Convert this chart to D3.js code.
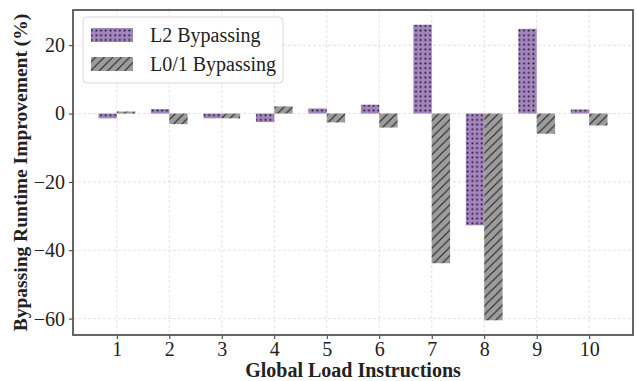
<!DOCTYPE html>
<html>
<head>
<meta charset="utf-8">
<script src="https://cdn.jsdelivr.net/npm/d3@7"></script>
<style>
  body { margin: 0; background: #fff; }
  svg { display: block; font-family: "Liberation Serif", "Times New Roman", serif; }
</style>
</head>
<body>
<div id="visContainer"></div>
<script>
// data
const instructions = [1, 2, 3, 4, 5, 6, 7, 8, 9, 10];
const l2Bypass = [-1.4, 1.3, -1.4, -2.5, 1.5, 2.6, 26.0, -32.7, 24.8, 1.2];
const l01Bypass = [0.6, -3.1, -1.4, 2.1, -2.6, -4.1, -43.8, -60.5, -5.9, -3.5];
const yTicks = [20, 0, -20, -40, -60];
const seriesNames = ["L2 Bypassing", "L0/1 Bypassing"];

const width = 637;
const height = 381;
const margin = {top: 10, right: 4, bottom: 46, left: 73};
const barW = 0.35;

const svg = d3.select("#visContainer")
  .append("svg")
  .attr("width", width)
  .attr("height", height);

// hatch patterns
const defs = svg.append("defs");
const dots = defs.append("pattern")
  .attr("id", "dots")
  .attr("patternUnits", "userSpaceOnUse")
  .attr("width", 4.7).attr("height", 4.7);
dots.append("rect").attr("width", 4.7).attr("height", 4.7).attr("fill", "#a585c1");
dots.append("rect").attr("x", 1.5).attr("y", 1.5).attr("width", 1.7).attr("height", 1.7).attr("fill", "#111");

const hatch = defs.append("pattern")
  .attr("id", "hatch")
  .attr("patternUnits", "userSpaceOnUse")
  .attr("width", 8.5).attr("height", 8.5);
hatch.append("rect").attr("width", 8.5).attr("height", 8.5).attr("fill", "#9c9c9c");
hatch.append("path")
  .attr("d", "M-2,10.5 L10.5,-2 M-2,2 L2,-2 M6.5,10.5 L10.5,6.5")
  .attr("stroke", "#222").attr("stroke-width", 1.1);

const x = d3.scaleLinear()
  .domain([0.165, 10.835])
  .range([margin.left, width - margin.right]);

const y = d3.scaleLinear()
  .domain([-64.8, 30.3])
  .range([height - margin.bottom, margin.top]);

// grid
const grid = svg.append("g").attr("stroke", "#dcdcdc").attr("stroke-dasharray", "3,2").attr("stroke-width", 0.8);
grid.selectAll(".gx").data(instructions).join("line")
  .attr("x1", d => x(d)).attr("x2", d => x(d))
  .attr("y1", margin.top).attr("y2", height - margin.bottom);
grid.selectAll(".gy").data(yTicks).join("line")
  .attr("x1", margin.left).attr("x2", width - margin.right)
  .attr("y1", d => y(d)).attr("y2", d => y(d));

// bars
const rows = instructions.map((d, i) => ({k: d, a: l2Bypass[i], b: l01Bypass[i]}));
svg.append("g").selectAll("rect").data(rows).join("rect")
  .attr("x", d => x(d.k - barW))
  .attr("width", d => x(d.k) - x(d.k - barW))
  .attr("y", d => y(Math.max(0, d.a)))
  .attr("height", d => Math.abs(y(d.a) - y(0)))
  .attr("fill", "url(#dots)");
svg.append("g").selectAll("rect").data(rows).join("rect")
  .attr("x", d => x(d.k))
  .attr("width", d => x(d.k + barW) - x(d.k))
  .attr("y", d => y(Math.max(0, d.b)))
  .attr("height", d => Math.abs(y(d.b) - y(0)))
  .attr("fill", "url(#hatch)");

// axes
const fmt = d => d < 0 ? "\u2212" + Math.abs(d) : d;
const xAxis = svg.append("g")
  .attr("transform", `translate(0, ${height - margin.bottom})`)
  .call(d3.axisBottom(x).tickValues(instructions).tickSize(4).tickPadding(3));
const yAxis = svg.append("g")
  .attr("transform", `translate(${margin.left}, 0)`)
  .call(d3.axisLeft(y).tickValues(yTicks).tickFormat(fmt).tickSize(4).tickPadding(4));
[xAxis, yAxis].forEach(a => {
  a.select(".domain").remove();
  a.selectAll("line").attr("stroke", "#333");
  a.selectAll("text").attr("font-size", 20).attr("fill", "#222")
    .attr("font-family", "Liberation Serif, serif");
});

// frame
svg.append("rect")
  .attr("x", margin.left).attr("y", margin.top)
  .attr("width", width - margin.left - margin.right)
  .attr("height", height - margin.top - margin.bottom)
  .attr("fill", "none").attr("stroke", "#555").attr("stroke-width", 1.8);

// axis labels
svg.append("text")
  .attr("x", (margin.left + width - margin.right) / 2)
  .attr("y", 377)
  .attr("text-anchor", "middle")
  .attr("font-size", 20).attr("font-weight", "bold").attr("fill", "#222")
  .text("Global Load Instructions");
svg.append("text")
  .attr("transform", `translate(27, ${(margin.top + height - margin.bottom) / 2}) rotate(-90)`)
  .attr("text-anchor", "middle")
  .attr("font-size", 19.5).attr("font-weight", "bold").attr("fill", "#222")
  .text("Bypassing Runtime Improvement (%)");

// legend
const lg = svg.append("g");
lg.append("rect")
  .attr("x", 83).attr("y", 17).attr("width", 200).attr("height", 66).attr("rx", 4)
  .attr("fill", "rgba(255,255,255,0.85)").attr("stroke", "#d8d8d8");
const fills = ["url(#dots)", "url(#hatch)"];
seriesNames.forEach((name, i) => {
  lg.append("rect")
    .attr("x", 91).attr("y", 28 + i * 29).attr("width", 42).attr("height", 14)
    .attr("fill", fills[i]);
  lg.append("text")
    .attr("x", 150).attr("y", 42 + i * 29)
    .attr("font-size", 20).attr("fill", "#222")
    .text(name);
});
</script>
</body>
</html>
